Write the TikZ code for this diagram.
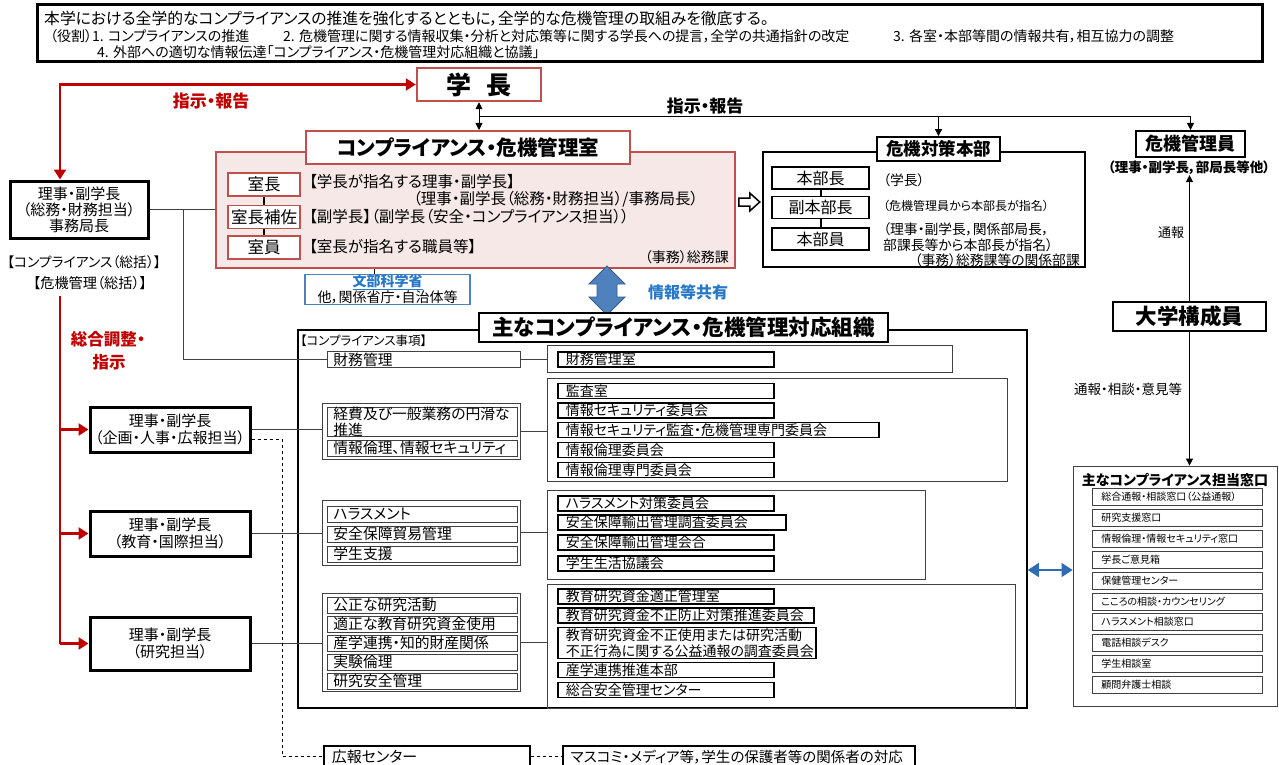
\documentclass[tikz,border=0pt]{standalone}
\usepackage{fontspec}
\setmainfont{Noto Sans CJK JP}[RawFeature=+palt]
\usetikzlibrary{arrows.meta}
\definecolor{dred}{HTML}{C00000}
\definecolor{bred}{HTML}{C0504D}
\definecolor{pinkf}{HTML}{F5E8E7}
\definecolor{bblue}{HTML}{4F81BD}
\definecolor{bbluedk}{HTML}{385D8A}
\definecolor{tblue}{HTML}{2878C8}
\definecolor{ablue}{HTML}{2E6DB4}
\newcommand\fsz[1]{\fontsize{#1}{#1}\selectfont}
\begin{document}
\begin{tikzpicture}[x=1pt,y=-1pt,
  txt/.style={inner sep=0pt},
  bigbox/.style={draw, line width=3pt, fill=white, align=center, inner sep=0pt},
  redbox/.style={draw=bred, line width=2pt, fill=white, inner sep=0pt},
  blk/.style={draw, line width=1.6pt, fill=white, inner sep=0pt},
  grp/.style={draw=black!75, line width=0.8pt, inner sep=0pt},
  litem/.style={draw=black!75, line width=0.8pt, anchor=west, fill=white, inner xsep=6pt, inner ysep=0pt, minimum height=16pt, align=left, font=\fsz{14.8}, text width=178pt},
  ritem/.style={draw, line width=1.6pt, anchor=west, fill=white, inner xsep=8pt, inner ysep=0pt, minimum height=15pt, align=left, font=\fsz{14}},
  witem/.style={draw=black!75, line width=0.8pt, anchor=west, fill=white, inner xsep=9pt, inner ysep=0pt, minimum height=17pt, text width=152pt, align=left, font=\fsz{10}},
  redline/.style={draw=dred, line width=2.4pt},
  rtip/.style={-{Triangle[length=10pt,width=12pt]}},
  ktip/.style={-{Triangle[length=7pt,width=7pt]}},
  conn/.style={draw=black!75, line width=0.9pt},
]
\useasboundingbox (0,0) rectangle (1279,765);
\clip (0,0) rectangle (1279,765);

% top box
\node[bigbox, minimum width=1225, minimum height=57] (top) at (649.5,33.5) {};
\node[txt, anchor=west, font=\fsz{15.8}] (t1) at (44,19) {本学における全学的なコンプライアンスの推進を強化するとともに，全学的な危機管理の取組みを徹底する。};
\node[txt, anchor=west, font=\fsz{14}] (t2a) at (50,36.5) {（役割）1. コンプライアンスの推進};
\node[txt, anchor=west, font=\fsz{14}] (t2b) at (283,36.5) {2. 危機管理に関する情報収集・分析と対応策等に関する学長への提言，全学の共通指針の改定};
\node[txt, anchor=west, font=\fsz{14}] (t2c) at (893,36.5) {3. 各室・本部等間の情報共有，相互協力の調整};
\node[txt, anchor=west, font=\fsz{14}] (t3) at (97,52.5) {4. 外部への適切な情報伝達「コンプライアンス・危機管理対応組織と協議」};

% president
\node[draw=bred, line width=2.5pt, fill=white, minimum width=124, minimum height=33, font=\bfseries\fsz{25}] (gak) at (479,84.5) {学\hspace{0.6em}長};

% left boxes
\node[bigbox, minimum width=138, minimum height=57, font=\fontsize{15}{16}\selectfont] (b1) at (79,209.5) {理事・副学長\\（総務・財務担当）\\事務局長};
\node[bigbox, minimum width=160, minimum height=45, font=\fontsize{15}{17}\selectfont] (b2) at (170,429.5) {理事・副学長\\（企画・人事・広報担当）};
\node[bigbox, minimum width=160, minimum height=45, font=\fontsize{15}{17}\selectfont] (b3) at (170,533.5) {理事・副学長\\（教育・国際担当）};
\node[bigbox, minimum width=160, minimum height=53, font=\fontsize{15}{17}\selectfont] (b4) at (170,643.5) {理事・副学長\\（研究担当）};
\node[txt, font=\fsz{13.8}] (lc1) at (84,262) {【コンプライアンス（総括）】};
\node[txt, font=\fsz{14.2}] (lc2) at (90,283) {【危機管理（総括）】};

% red connectors
\coordinate (rx) at (60,0);
\draw[redline, {Triangle[length=10pt,width=12pt]}-{Triangle[length=10pt,width=12pt]}] (gak.west) -| (b1.north -| rx);
\node[txt, font=\bfseries\fsz{17}, text=dred] (lb1) at (211,101) {指示・報告};
\coordinate (rtop) at (60,296);
\draw[redline] (rtop) -- (rtop |- b4.west);
\draw[redline, rtip] (rtop |- b2.west) -- (b2.west);
\draw[redline, rtip] (rtop |- b3.west) -- (b3.west);
\draw[redline, rtip] (rtop |- b4.west) -- (b4.west);
\node[txt, text=dred, font=\bfseries\fsz{16.5}] (lb2) at (108,339) {総合調整・};
\node[txt, text=dred, font=\bfseries\fsz{16.5}] (lb3) at (109,362) {指示};

% compliance room
\node[draw=bred, line width=1.5pt, fill=pinkf, minimum width=519, minimum height=116] (room) at (475.5,210) {};
\node[redbox, minimum width=324, minimum height=33, font=\bfseries\fsz{20.5}] (rhead) at (468,147.5) {コンプライアンス・危機管理室};
\node[redbox, line width=1.5pt, minimum width=72, minimum height=23, font=\fsz{16.5}] (s1) at (264,184.5) {室長};
\node[redbox, line width=1.5pt, minimum width=72, minimum height=23, font=\fsz{16.5}] (s2) at (264,217) {室長補佐};
\node[redbox, line width=1.5pt, minimum width=72, minimum height=23, font=\fsz{16.5}] (s3) at (264,247.5) {室員};
\draw[line width=2pt] (s1.south) -- (s2.north);
\draw[line width=2pt] (s2.south) -- (s3.north);
\node[txt, anchor=west, font=\fsz{15.5}] (rt1) at (309,182) {【学長が指名する理事・副学長】};
\node[txt, anchor=west, font=\fsz{15.5}] (rt2) at (413,199) {（理事・副学長（総務・財務担当）/事務局長）};
\node[txt, anchor=west, font=\fsz{15.5}] (rt3) at (309,217) {【副学長】（副学長（安全・コンプライアンス担当））};
\node[txt, anchor=west, font=\fsz{15.5}] (rt4) at (309,247) {【室長が指名する職員等】};
\node[txt, anchor=east, font=\fsz{14}] (rt5) at (729,257) {（事務）総務課};

\draw[conn] (b1.east) -- (b1.east -| room.west);
\coordinate (j1) at (183,209.5);

% president connectors
\draw[line width=0.9pt, {Triangle[length=7pt,width=7pt]}-{Triangle[length=7pt,width=7pt]}] (gak.south) -- (gak.south |- rhead.north);

% crisis HQ
\node[blk, line width=1.8pt, minimum width=322, minimum height=115] (hqbox) at (924,209.5) {};
\node[blk, line width=1.8pt, minimum width=123, minimum height=24, font=\bfseries\fsz{17.5}] (hq) at (938.5,149) {危機対策本部};
\node[blk, minimum width=97, minimum height=22, font=\fsz{16}] (h1) at (820.5,178) {本部長};
\node[blk, minimum width=97, minimum height=22, font=\fsz{16}] (h2) at (820.5,207.5) {副本部長};
\node[blk, minimum width=97, minimum height=22, font=\fsz{16}] (h3) at (820.5,239) {本部員};
\draw[line width=2pt] (h1.south) -- (h2.north);
\draw[line width=2pt] (h2.south) -- (h3.north);
\node[txt, anchor=west, font=\fsz{13.8}] (ht1) at (883,180) {（学長）};
\node[txt, anchor=west, font=\fsz{12}] (ht2) at (883,206) {（危機管理員から本部長が指名）};
\node[txt, anchor=west, font=\fsz{13.8}] (ht3) at (883,229.5) {（理事・副学長，関係部局長，};
\node[txt, anchor=west, font=\fsz{13.8}] (ht4) at (883,245) {部課長等から本部長が指名）};
\node[txt, anchor=east, font=\fsz{13.8}] (ht5) at (1080,260) {（事務）総務課等の関係部課};

% hollow arrow
\coordinate (ha) at (738,202);
\draw[line width=1.5pt, fill=white, line join=miter] (room.east |- ha) ++(3,-4) -- ++(11,0) -- ++(0,-5) -- ++(10,9) -- ++(-10,9) -- ++(0,-5) -- ++(-11,0) -- cycle;

% crisis manager
\node[blk, line width=2pt, minimum width=109, minimum height=26, font=\bfseries\fsz{18}] (kanri) at (1190.5,144) {危機管理員};
\node[txt, font=\bfseries\fsz{13.5}] (kl) at (1189,168) {（理事・副学長，部局長等他）};

\coordinate (hy) at (479,116);
\draw[line width=0.9pt] (hy) -- (hy -| kanri.north);
\draw[line width=0.9pt, ktip] (hq.north |- hy) -- (hq.north);
\draw[line width=0.9pt, ktip] (kanri.north |- hy) -- (kanri.north);
\node[txt, font=\bfseries\fsz{17}] (lb4) at (705,106) {指示・報告};

% university members
\node[blk, line width=2pt, minimum width=153, minimum height=29, font=\bfseries\fsz{21.5}] (dai) at (1189.5,316.5) {大学構成員};
\draw[line width=1.2pt, ktip] (dai.north) -- (dai.north |- kl.south);
\node[txt, font=\fsz{13}] (lb8) at (1171,233) {通報};

% info sharing arrow
\fill[bblue, draw=bbluedk, line width=0.8pt] (607,266) -- (625,284) -- (617,284) -- (617,297) -- (625,297) -- (607,315) -- (589,297) -- (597,297) -- (597,284) -- (589,284) -- cycle;
\node[txt, text=tblue, font=\bfseries\fsz{16}] (lb5) at (688,292) {情報等共有};

% MEXT
\node[draw=bblue, line width=1.5pt, fill=white, minimum width=165, minimum height=29, inner sep=0pt, align=center, font=\fontsize{14}{14.5}\selectfont] (mext) at (387.5,289.5) {\textcolor{tblue}{\bfseries\underline{文部科学省}}\\他，関係省庁・自治体等};
\coordinate (mx) at (374,0);
\draw[line width=1pt] (room.south -| mx) -- (mext.north -| mx);

% main organisation box
\node[draw, line width=1.5pt, minimum width=729, minimum height=378] (big) at (662.5,519) {};
\node[draw, line width=2pt, fill=white, minimum width=409, minimum height=29, inner sep=0pt, font=\bfseries\fsz{21.5}] (bighead) at (683.5,327.5) {主なコンプライアンス・危機管理対応組織};
\node[txt, anchor=west, font=\fsz{12.5}] (lb6) at (300,341) {【コンプライアンス事項】};

% group 1
\node[litem, text width=181pt] (g1l) at (327,359.5) {財務管理};
\node[grp, minimum width=405, minimum height=27] (g1r) at (749.5,358.5) {};
\node[ritem, text width=200pt] (r10) at (557,359.5) {財務管理室};
\draw[conn] (j1) |- (g1l.west);
\draw[conn] (g1l.east) -- (g1l.east -| g1r.west);

% group 2
\node[grp, minimum width=198, minimum height=56] (g2l) at (421,431) {};
\node[litem, minimum height=28pt, font=\fontsize{14.8}{15.5}\selectfont] (l21) at (327,422) {経費及び一般業務の円滑な\\推進};
\node[litem] (l22) at (327,448) {情報倫理、情報セキュリティ};
\node[grp, minimum width=460, minimum height=103] (g2r) at (777,429.5) {};
\node[ritem, text width=200pt] (r21) at (557,391) {監査室};
\node[ritem, text width=200pt] (r22) at (557,410.5) {情報セキュリティ委員会};
\node[ritem, text width=305pt] (r23) at (557,430) {情報セキュリティ監査・危機管理専門委員会};
\node[ritem, text width=200pt] (r24) at (557,450) {情報倫理委員会};
\node[ritem, text width=200pt] (r25) at (557,470) {情報倫理専門委員会};
\draw[conn] (g2l.east) -- (g2l.east -| g2r.west);
\draw[conn] (b2.east) -- (b2.east -| g2l.west);

% group 3
\node[grp, minimum width=198, minimum height=65] (g3l) at (421,532.5) {};
\node[litem] (l31) at (327,514) {ハラスメント};
\node[litem] (l32) at (327,534) {安全保障貿易管理};
\node[litem] (l33) at (327,554) {学生支援};
\node[grp, minimum width=378, minimum height=89] (g3r) at (736,534.5) {};
\node[ritem, text width=200pt] (r31) at (557,503.5) {ハラスメント対策委員会};
\node[ritem, text width=212pt] (r32) at (557,522.5) {安全保障輸出管理調査委員会};
\node[ritem, text width=200pt] (r33) at (557,542.5) {安全保障輸出管理会合};
\node[ritem, text width=200pt] (r34) at (557,563.5) {学生生活協議会};
\draw[conn] (g3l.east) -- (g3l.east -| g3r.west);
\draw[conn] (b3.east) -- (b3.east -| g3l.west);

% group 4
\node[grp, minimum width=198, minimum height=98] (g4l) at (421,642) {};
\node[litem] (l41) at (327,605) {公正な研究活動};
\node[litem] (l42) at (327,624) {適正な教育研究資金使用};
\node[litem] (l43) at (327,643) {産学連携・知的財産関係};
\node[litem] (l44) at (327,662) {実験倫理};
\node[litem] (l45) at (327,681) {研究安全管理};
\node[grp, minimum width=468, minimum height=124] (g4r) at (781,646) {};
\node[ritem, text width=200pt] (r41) at (557,596.5) {教育研究資金適正管理室};
\node[ritem, text width=240pt] (r42) at (557,615.5) {教育研究資金不正防止対策推進委員会};
\node[ritem, text width=242pt, minimum height=31pt, font=\fontsize{14}{15.5}\selectfont] (r43) at (557,643) {教育研究資金不正使用または研究活動\\不正行為に関する公益通報の調査委員会};
\node[ritem, text width=200pt] (r44) at (557,670) {産学連携推進本部};
\node[ritem, text width=200pt] (r45) at (557,690) {総合安全管理センター};
\draw[conn] (g4l.east) -- (g4l.east -| g4r.west);
\draw[conn] (b4.east) -- (b4.east -| g4l.west);

% contact windows
\node[grp, minimum width=204, minimum height=240] (win) at (1175,586) {};
\node[txt, font=\bfseries\fsz{14}] (wt) at (1175,480) {主なコンプライアンス担当窓口};
\node[witem] (w1) at (1092,497) {総合通報・相談窓口（公益通報）};
\node[witem] (w2) at (1092,518) {研究支援窓口};
\node[witem] (w3) at (1092,539) {情報倫理・情報セキュリティ窓口};
\node[witem] (w4) at (1092,560) {学長ご意見箱};
\node[witem] (w5) at (1092,580.5) {保健管理センター};
\node[witem] (w6) at (1092,601.5) {こころの相談・カウンセリング};
\node[witem] (w7) at (1092,622) {ハラスメント相談窓口};
\node[witem] (w8) at (1092,643) {電話相談デスク};
\node[witem] (w9) at (1092,664) {学生相談室};
\node[witem] (w10) at (1092,685) {顧問弁護士相談};
\draw[line width=1.2pt, ktip] (dai.south) -- (dai.south |- win.north);
\node[txt, font=\fsz{13.5}] (lb7) at (1128,389) {通報・相談・意見等};
\draw[ablue, line width=1.2pt, {Triangle[length=11pt,width=14pt]}-{Triangle[length=11pt,width=14pt]}] (big.east |- 0,570) -- (win.west |- 0,570);

% bottom
\node[draw, line width=1.6pt, anchor=west, minimum height=22pt, text width=190pt, inner xsep=8pt, inner ysep=0pt, align=left, font=\fsz{15}] (kouhou) at (323,757) {広報センター};
\node[draw, line width=1.6pt, anchor=west, minimum height=22pt, text width=336pt, inner xsep=8pt, inner ysep=0pt, align=left, font=\fsz{14.5}] (mass) at (562,757) {マスコミ・メディア等，学生の保護者等の関係者の対応};
\coordinate (dz) at (282,756);
\draw[dashed, line width=0.8pt] ([yshift=-10pt]b2.east) -| (dz) -- (dz -| kouhou.west);
\draw[dashed, line width=0.8pt] (kouhou.east |- dz) -- (mass.west |- dz);
\end{tikzpicture}
\end{document}
